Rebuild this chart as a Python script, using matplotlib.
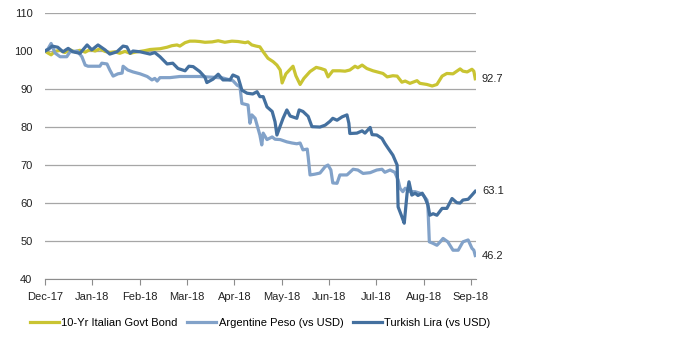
import matplotlib
matplotlib.use("Agg")
import matplotlib.pyplot as plt
import numpy as np

# Data (x = months since end of Dec-17, values indexed to 100)
months = ["Dec-17", "Jan-18", "Feb-18", "Mar-18", "Apr-18", "May-18",
          "Jun-18", "Jul-18", "Aug-18", "Sep-18"]

italy_x = [0.00, 0.06, 0.13, 0.21, 0.32, 0.42, 0.53, 0.63, 0.74, 0.85, 0.95, 1.06,
           1.16, 1.27, 1.37, 1.48, 1.58, 1.69, 1.80, 1.90, 2.01, 2.11, 2.22, 2.32,
           2.43, 2.58, 2.68, 2.79, 2.85, 2.96, 3.06, 3.17, 3.27, 3.38, 3.53, 3.66,
           3.80, 3.95, 4.08, 4.23, 4.29, 4.37, 4.46, 4.54, 4.61, 4.71, 4.82, 4.90,
           4.97, 5.01, 5.09, 5.18, 5.24, 5.30, 5.39, 5.47, 5.60, 5.73, 5.83, 5.92,
           5.98, 6.08, 6.23, 6.34, 6.44, 6.55, 6.61, 6.70, 6.80, 6.93, 7.08, 7.14,
           7.23, 7.35, 7.44, 7.54, 7.61, 7.71, 7.86, 7.92, 8.07, 8.18, 8.28, 8.39,
           8.49, 8.62, 8.77, 8.83, 8.92, 9.02, 9.06, 9.09]
italy = [100.0, 99.5, 99.0, 99.9, 100.2, 99.6, 100.3, 99.8, 100.2, 99.7, 100.4, 100.0,
         100.6, 99.9, 99.6, 99.8, 99.4, 99.9, 99.4, 99.7, 99.9, 100.1, 100.4, 100.5,
         100.6, 101.0, 101.4, 101.6, 101.3, 102.2, 102.6, 102.6, 102.5, 102.3, 102.4, 102.7,
         102.3, 102.6, 102.5, 102.2, 102.4, 101.6, 101.3, 101.1, 99.8, 98.1, 97.2, 96.3,
         95.0, 91.6, 94.0, 95.2, 96.0, 93.5, 91.2, 92.8, 94.6, 95.7, 95.4, 95.0,
         93.2, 94.8, 94.8, 94.7, 95.0, 96.0, 95.6, 96.3, 95.4, 94.8, 94.3, 94.1,
         93.2, 93.5, 93.4, 91.8, 92.1, 91.5, 92.2, 91.5, 91.2, 90.8, 91.2, 93.4,
         94.1, 94.0, 95.3, 94.7, 94.5, 95.2, 94.7, 92.7]

peso_x = [0.00, 0.06, 0.13, 0.21, 0.32, 0.46, 0.53, 0.68, 0.78, 0.85, 0.91, 1.16,
          1.20, 1.31, 1.37, 1.44, 1.54, 1.63, 1.65, 1.75, 1.86, 2.01, 2.16, 2.26,
          2.32, 2.37, 2.43, 2.64, 2.85, 3.27, 3.55, 3.76, 3.91, 3.97, 4.06, 4.12,
          4.16, 4.29, 4.33, 4.37, 4.44, 4.54, 4.58, 4.61, 4.69, 4.80, 4.86, 4.97,
          5.11, 5.22, 5.32, 5.39, 5.45, 5.54, 5.56, 5.60, 5.70, 5.81, 5.92, 5.98,
          6.04, 6.08, 6.17, 6.23, 6.38, 6.51, 6.61, 6.72, 6.87, 7.01, 7.12, 7.18,
          7.29, 7.39, 7.46, 7.50, 7.56, 7.61, 7.71, 7.82, 7.92, 7.99, 8.07, 8.09,
          8.12, 8.20, 8.28, 8.35, 8.41, 8.51, 8.62, 8.73, 8.83, 8.94, 9.02, 9.06, 9.09]
peso = [100.0, 100.5, 102.0, 99.5, 98.5, 98.5, 99.8, 100.0, 98.5, 96.3, 96.0, 96.0,
        96.8, 96.6, 95.0, 93.4, 94.0, 94.2, 96.0, 95.0, 94.5, 94.0, 93.3, 92.4,
        92.8, 92.1, 93.0, 93.0, 93.3, 93.3, 93.1, 92.9, 92.4, 92.2, 91.0, 90.6,
        86.2, 85.8, 81.0, 83.2, 82.3, 77.9, 75.3, 78.4, 76.7, 77.4, 76.8, 76.7,
        76.1, 75.8, 75.6, 75.8, 74.0, 74.2, 72.2, 67.4, 67.6, 67.9, 69.6, 70.0,
        68.7, 65.3, 65.2, 67.4, 67.4, 68.9, 68.7, 67.8, 68.0, 68.7, 68.9, 68.1,
        68.7, 68.1, 66.1, 63.9, 63.0, 63.9, 63.0, 63.0, 62.6, 62.1, 60.8, 59.0,
        49.8, 49.4, 48.9, 49.8, 50.7, 49.8, 47.6, 47.6, 49.8, 50.3, 48.1, 47.6, 46.2]

lira_x = [0.00, 0.08, 0.15, 0.27, 0.38, 0.49, 0.59, 0.74, 0.89, 0.99, 1.12, 1.27,
          1.37, 1.52, 1.65, 1.73, 1.80, 1.86, 2.01, 2.22, 2.32, 2.43, 2.58, 2.70,
          2.81, 2.96, 3.04, 3.13, 3.27, 3.38, 3.42, 3.55, 3.66, 3.76, 3.91, 3.97,
          4.08, 4.16, 4.27, 4.39, 4.48, 4.54, 4.61, 4.69, 4.80, 4.86, 4.90, 5.03,
          5.11, 5.18, 5.32, 5.37, 5.45, 5.56, 5.64, 5.81, 5.92, 6.02, 6.08, 6.17,
          6.28, 6.38, 6.42, 6.44, 6.59, 6.70, 6.76, 6.87, 6.91, 7.01, 7.12, 7.18,
          7.25, 7.35, 7.44, 7.46, 7.54, 7.59, 7.65, 7.69, 7.75, 7.82, 7.88, 7.97,
          8.03, 8.09, 8.13, 8.20, 8.28, 8.39, 8.49, 8.60, 8.70, 8.77, 8.83, 8.94,
          9.02, 9.09]
lira = [100.0, 100.5, 101.3, 101.0, 99.8, 100.7, 99.8, 99.4, 101.6, 100.3, 101.6, 100.3,
        99.2, 99.8, 101.3, 101.1, 99.4, 100.0, 99.8, 99.2, 99.6, 98.5, 96.6, 96.8,
        95.4, 94.8, 96.0, 95.9, 94.6, 93.1, 91.7, 92.6, 93.9, 92.4, 92.4, 93.7,
        93.1, 89.7, 88.9, 88.7, 89.3, 88.0, 88.0, 85.3, 84.1, 81.4, 77.9, 82.3,
        84.5, 82.9, 82.3, 84.5, 84.1, 82.8, 80.1, 80.0, 80.5, 81.5, 82.3, 81.8,
        82.7, 83.2, 81.0, 78.3, 78.4, 79.0, 78.4, 79.9, 78.0, 77.9, 77.0, 75.7,
        74.4, 72.6, 70.0, 59.0, 56.4, 54.7, 62.6, 65.6, 62.1, 62.6, 62.0, 62.6,
        61.3, 59.5, 56.8, 57.2, 56.8, 58.6, 58.6, 61.2, 60.1, 60.0, 60.8, 61.0,
        62.1, 63.1]

series = [
    ("10-Yr Italian Govt Bond", italy_x, italy, "#c9c432"),
    ("Argentine Peso (vs USD)", peso_x, peso, "#82a2c9"),
    ("Turkish Lira (vs USD)", lira_x, lira, "#44709f"),
]

plt.rcParams["font.family"] = ["Liberation Sans", "DejaVu Sans"]

fig = plt.figure(figsize=(6.95, 3.48), dpi=100)
ax = fig.add_axes([0.0647, 0.198, 0.6198, 0.7646])

for label, xs, ys, color in series:
    ax.plot(xs, ys, color=color, lw=2.3, label=label, solid_joinstyle="round")
    ax.text(xs[-1] + 0.14, ys[-1], f"{ys[-1]:.1f}", ha="left", va="center",
            fontsize=8, color="#222222")

ax.set_xlim(0, 9.1)
ax.set_ylim(40, 110)
ax.set_yticks(np.arange(40, 111, 10))
ax.set_xticks(np.arange(len(months)))
ax.set_xticklabels(months)
ax.yaxis.grid(True, color="#a6a6a6", lw=0.9)
ax.set_axisbelow(True)
for s in ["left", "right", "top"]:
    ax.spines[s].set_visible(False)
ax.spines["bottom"].set_color("#8c8c8c")
ax.tick_params(axis="y", length=0, labelsize=8, pad=9, colors="#222222")
ax.tick_params(axis="x", direction="out", length=4, color="#8c8c8c",
               labelsize=8, pad=5, labelcolor="#222222")

ax.legend(loc="upper center", bbox_to_anchor=(0.5, -0.11), ncol=3, frameon=False,
          fontsize=8, handlelength=2.6, handletextpad=0.2, columnspacing=0.9)

fig.savefig("out.png", dpi=100)
